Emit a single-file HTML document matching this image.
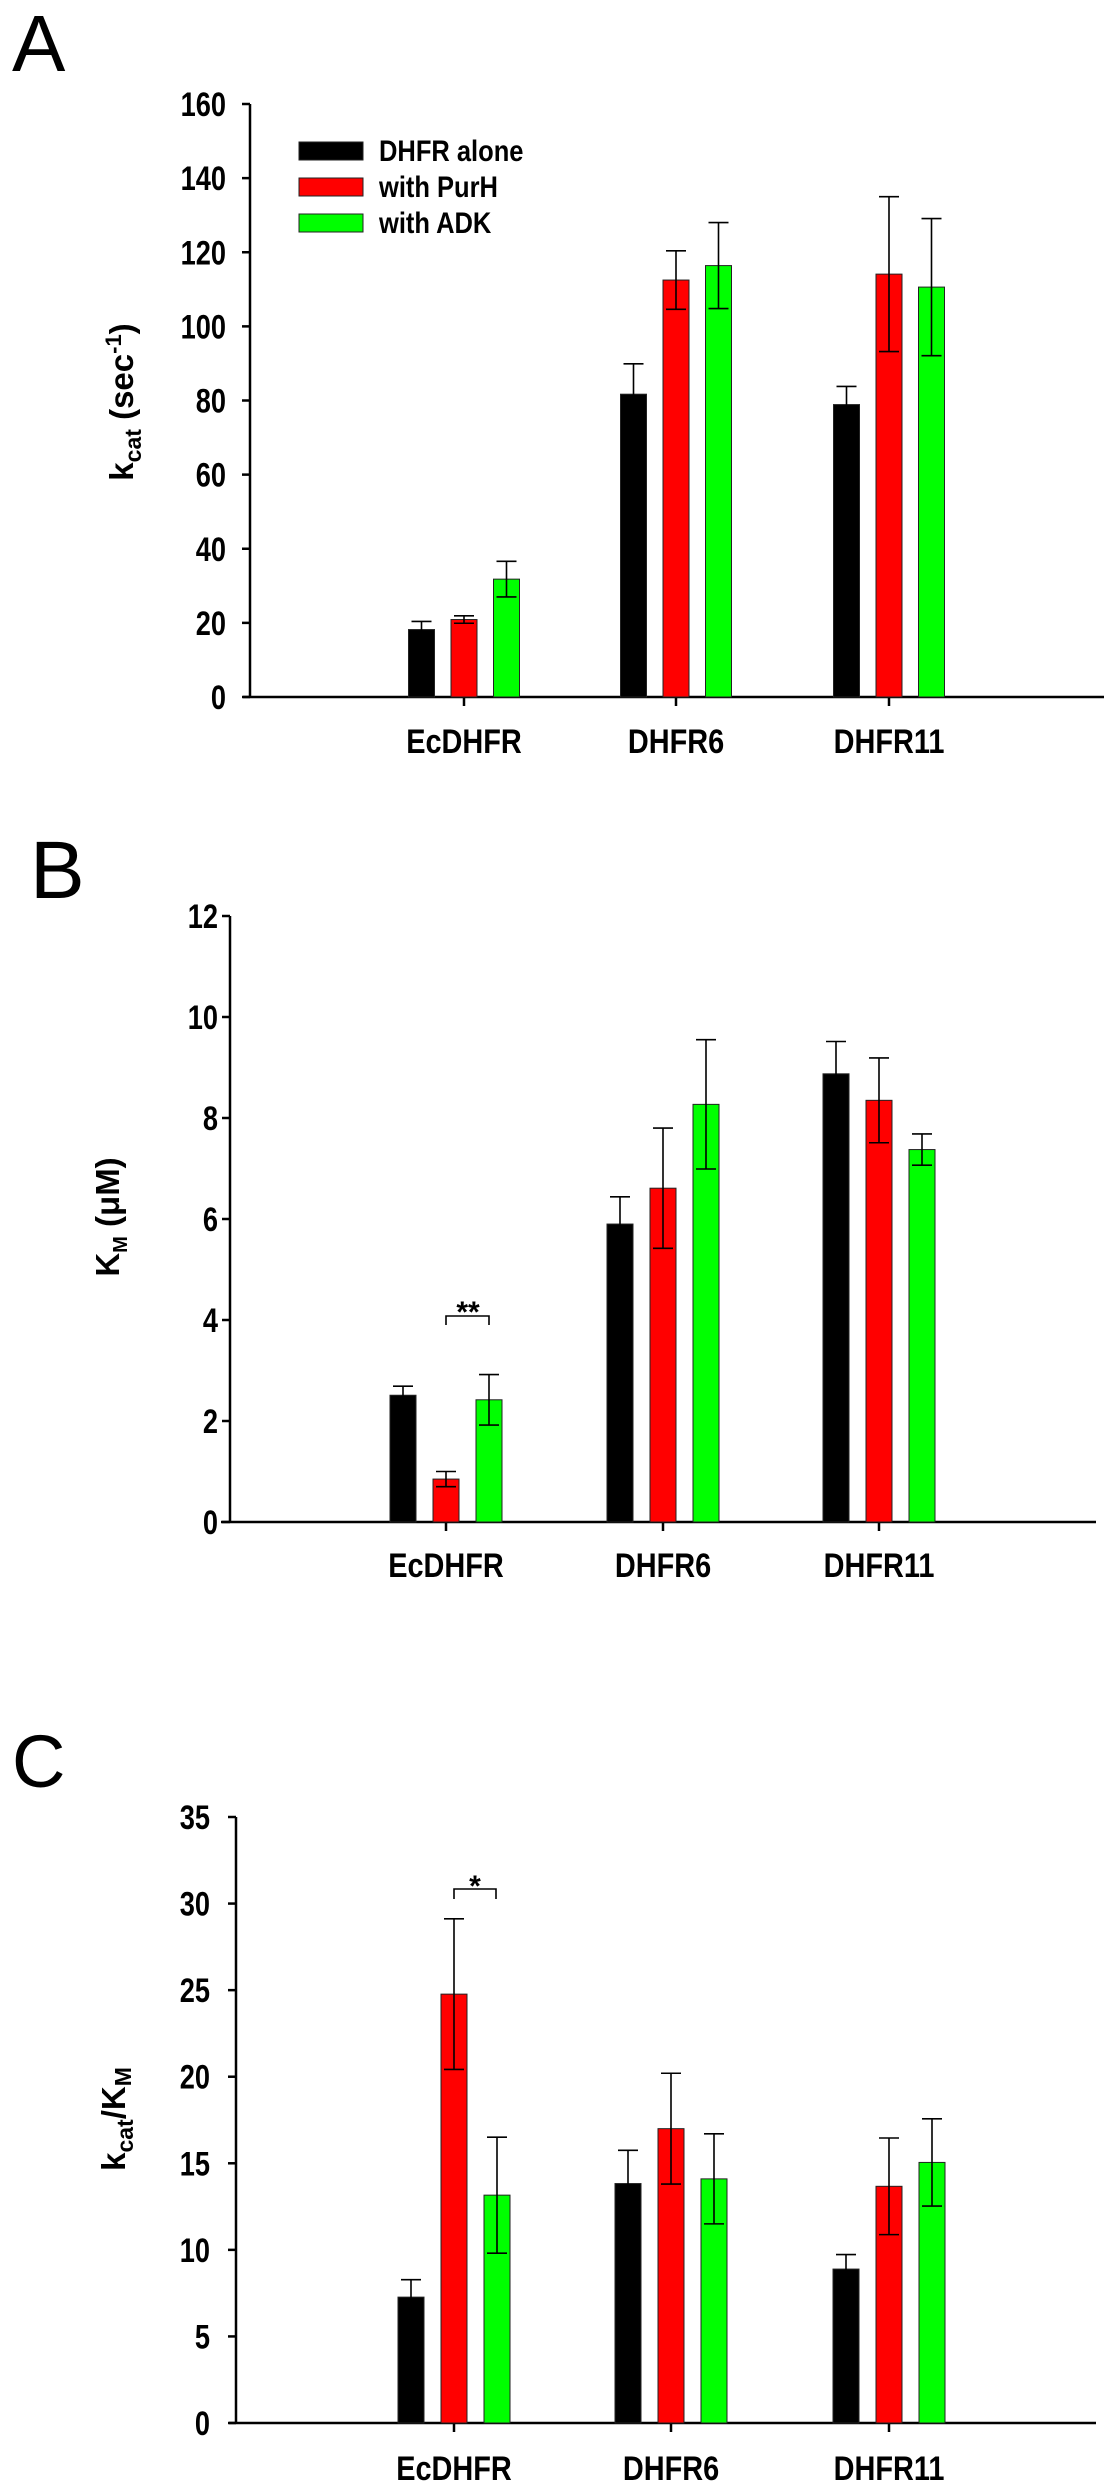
<!DOCTYPE html>
<html><head><meta charset="utf-8"><style>
html,body{margin:0;padding:0;background:#fff;}
svg{display:block;font-family:"Liberation Sans",Arial,sans-serif;}
</style></head><body>
<svg id="fig" width="1114" height="2489" viewBox="0 0 1114 2489" xmlns="http://www.w3.org/2000/svg">
<rect width="1114" height="2489" fill="#fff"/>
<text x="12" y="71" font-size="80">A</text>
<text x="30" y="898" font-size="82">B</text>
<text x="12" y="1787" font-size="74">C</text>
</svg>
<script>
const categories = ["EcDHFR","DHFR6","DHFR11"];
const seriesNames = ["DHFR alone","with PurH","with ADK"];
const seriesColors = ["#000000","#ff0000","#00ff00"];

const kcatAlone = [18.2, 81.7, 78.9];
const kcatAloneErr = [2.2, 8.2, 4.9];
const kcatPurH = [20.9, 112.5, 114.1];
const kcatPurHErr = [1.0, 7.9, 20.9];
const kcatADK = [31.8, 116.4, 110.6];
const kcatADKErr = [4.8, 11.6, 18.5];
const kcatTicks = [0,20,40,60,80,100,120,140,160];

const kmAlone = [2.51, 5.9, 8.875];
const kmAloneErr = [0.18, 0.54, 0.64];
const kmPurH = [0.85, 6.61, 8.35];
const kmPurHErr = [0.15, 1.19, 0.84];
const kmADK = [2.42, 8.27, 7.375];
const kmADKErr = [0.5, 1.28, 0.31];
const kmTicks = [0,2,4,6,8,10,12];

const effAlone = [7.27, 13.83, 8.89];
const effAloneErr = [1.01, 1.92, 0.84];
const effPurH = [24.77, 17.0, 13.67];
const effPurHErr = [4.35, 3.2, 2.79];
const effADK = [13.16, 14.1, 15.05];
const effADKErr = [3.35, 2.6, 2.52];
const effTicks = [0,5,10,15,20,25,30,35];

const NS = "http://www.w3.org/2000/svg";
const svg = document.getElementById("fig");
function mk(tag, attrs, parent){
  const e = document.createElementNS(NS, tag);
  for (const k in attrs) e.setAttribute(k, attrs[k]);
  (parent||svg).appendChild(e);
  return e;
}

function panel(p){
  const g = mk("g", {});
  
  
  const y = v => p.y0 - (v - p.min) / (p.max - p.min) * (p.y0 - p.yTop);
  const ya = mk("line", {x1:p.ax, y1:p.yTop, x2:p.ax, y2:p.y0, stroke:"#000","stroke-width":2.5}, g);
  
  
  const xa = mk("line", {x1:p.xStart, y1:p.y0, x2:p.xEnd, y2:p.y0, stroke:"#000","stroke-width":2.5}, g);
  
  
  p.ticks.forEach(t => {
    const yy = y(t);
    mk("line", {x1:p.ax-8, y1:yy, x2:p.ax, y2:yy, stroke:"#000","stroke-width":2.5}, g);
    const tx = mk("text", {transform:`translate(${p.labelRight},${yy+12}) scale(0.8,1)`, "font-size":34, "font-weight":"bold", "text-anchor":"end"}, g);
    tx.textContent = t;
    
    
  });
  categories.forEach((c, i) => {
    const cx = p.cats[i];
    mk("line", {x1:cx, y1:p.y0, x2:cx, y2:p.y0+9, stroke:"#000","stroke-width":2.5}, g);
    const tx = mk("text", {transform:`translate(${cx},${p.xLabelY}) scale(0.85,1)`, "font-size":34, "font-weight":"bold", "text-anchor":"middle"}, g);
    tx.textContent = c;
    
    
    p.series.forEach((s, k) => {
      const bx = cx + (k-1)*p.gap - p.bw/2;
      const top = y(s.v[i]);
      const r = mk("rect", {x:bx, y:top, width:p.bw, height:p.y0-top, fill:seriesColors[k], stroke:"#222","stroke-width":1}, g);
      
      
      const ex = bx + p.bw/2;
      const hi = y(s.v[i] + s.e[i]), lo = y(s.v[i] - s.e[i]);
      const eb = mk("path", {d:`M${ex},${lo}V${hi}M${ex-10},${hi}H${ex+10}M${ex-10},${lo}H${ex+10}`, stroke:"#000","stroke-width":1.6, fill:"none"}, g);
      
      
    });
  });
  return {g, y};
}

const A = panel({id:"kcat", ax:250, yTop:104, y0:697, min:0, max:160, xStart:243, xEnd:1104,
  ticks:kcatTicks, labelRight:226, cats:[464,676,889], gap:42.5, bw:26, xLabelY:753,
  series:[{v:kcatAlone,e:kcatAloneErr},{v:kcatPurH,e:kcatPurHErr},{v:kcatADK,e:kcatADKErr}]});
seriesNames.forEach((n, k) => {
  const yy = 142 + k*36;
  const sw = mk("rect", {x:299, y:yy, width:64, height:18, fill:seriesColors[k], stroke:"#222","stroke-width":1});
  
  
  const t = mk("text", {transform:`translate(379,${yy+19}) scale(0.85,1)`, "font-size":30, "font-weight":"bold"});
  t.textContent = n;
  
  
});
const yla = mk("text", {transform:"translate(133,402) rotate(-90)", "font-size":33, "font-weight":"bold", "text-anchor":"middle"});


yla.innerHTML = 'k<tspan font-size="23" dy="8">cat</tspan><tspan dy="-8"> (sec</tspan><tspan font-size="22" dy="-12">-1</tspan><tspan dy="12">)</tspan>';

const B = panel({id:"km", ax:230, yTop:916, y0:1522, min:0, max:12, xStart:221, xEnd:1096,
  ticks:kmTicks, labelRight:218, cats:[446,663,879], gap:43, bw:26, xLabelY:1577,
  series:[{v:kmAlone,e:kmAloneErr},{v:kmPurH,e:kmPurHErr},{v:kmADK,e:kmADKErr}]});
const ylb = mk("text", {transform:"translate(119,1217) rotate(-90)", "font-size":33, "font-weight":"bold", "text-anchor":"middle"});


ylb.innerHTML = 'K<tspan font-size="20" dy="8">M</tspan><tspan dy="-8"> (μM)</tspan>';
const brB = mk("path", {d:"M446,1325V1316H489V1325", stroke:"#000","stroke-width":1.6, fill:"none"});


const stB = mk("text", {x:468, y:1322, "font-size":30, "font-weight":"bold", "text-anchor":"middle"});
stB.textContent = "**";



const C = panel({id:"efficiency", ax:236, yTop:1817, y0:2423, min:0, max:35, xStart:229, xEnd:1096,
  ticks:effTicks, labelRight:210, cats:[454,671,889], gap:43, bw:26, xLabelY:2480,
  series:[{v:effAlone,e:effAloneErr},{v:effPurH,e:effPurHErr},{v:effADK,e:effADKErr}]});
const ylc = mk("text", {transform:"translate(125,2119) rotate(-90)", "font-size":33, "font-weight":"bold", "text-anchor":"middle"});


ylc.innerHTML = 'k<tspan font-size="23" dy="8">cat</tspan><tspan dy="-8">/K</tspan><tspan font-size="23" dy="6">M</tspan>';
const brC = mk("path", {d:"M454,1899V1889H496V1899", stroke:"#000","stroke-width":1.6, fill:"none"});


const stC = mk("text", {x:475, y:1896, "font-size":30, "font-weight":"bold", "text-anchor":"middle"});
stC.textContent = "*";


</script>
</body></html>
